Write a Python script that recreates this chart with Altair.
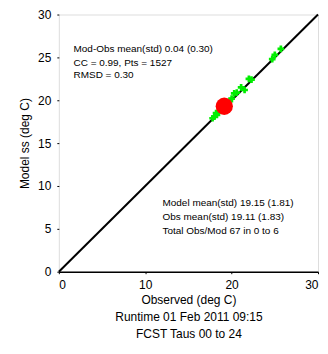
import altair as alt
import pandas as pd

obs = [17.8, 18.0, 18.2, 18.3, 18.5, 18.7, 18.9, 19.0, 19.2, 19.4, 19.6, 19.8, 20.0, 20.3, 20.6, 21.1, 21.5, 22.0, 22.3, 24.7, 25.0, 25.7]
mod = [17.9, 18.1, 18.5, 18.3, 18.6, 18.9, 18.8, 19.2, 19.1, 19.5, 19.6, 19.9, 20.2, 20.8, 20.9, 21.5, 21.2, 22.5, 22.4, 24.8, 25.3, 26.0]
mean_obs = [19.15]
mean_mod = [19.3]
line_vals = [0, 30]

stats_top = ["Mod-Obs mean(std) 0.04 (0.30)", "CC = 0.99, Pts = 1527", "RMSD = 0.30"]
stats_top_y = [26.0, 24.4, 22.9]
stats_bot = ["Model mean(std) 19.15 (1.81)", "Obs mean(std) 19.11 (1.83)", "Total Obs/Mod 67 in 0 to 6"]
stats_bot_y = [8.0, 6.4, 4.8]

xs = alt.Scale(domain=[0, 30], nice=False, zero=False)
ys = alt.Scale(domain=[0, 30], nice=False, zero=False)

xax = alt.Axis(values=[0, 10, 20, 30], format="d", domain=True, domainColor="black", domainWidth=1.5,
               ticks=True, tickSize=2, tickColor="black", grid=False,
               labelFontSize=12, labelColor="black", labelFont="Liberation Sans", labelPadding=6,
               title=["Observed (deg C)", "Runtime 01 Feb 2011 09:15", "FCST Taus 00 to 24"],
               titleFontSize=12, titleFontWeight="normal", titleFont="Liberation Sans", titleColor="black",
               titleLineHeight=17, titlePadding=4)
yax = alt.Axis(values=[0, 5, 10, 15, 20, 25, 30], format="d", domain=False,
               ticks=True, tickSize=2, tickColor="black", grid=False,
               labelFontSize=12, labelColor="black", labelFont="Liberation Sans", labelPadding=6,
               title="Model ss (deg C)", titleFontSize=12, titleFontWeight="normal",
               titleFont="Liberation Sans", titleColor="black", titlePadding=6)

line_df = pd.DataFrame({"x": line_vals, "y": line_vals})
line = alt.Chart(line_df).mark_line(color="black", strokeWidth=2).encode(
    x=alt.X("x:Q", scale=xs, axis=xax), y=alt.Y("y:Q", scale=ys, axis=yax))

pts_df = pd.DataFrame({"x": obs, "y": mod})
pts = alt.Chart(pts_df).mark_point(shape="cross", color="#00ee00", filled=True, size=45, opacity=1).encode(
    x=alt.X("x:Q", scale=xs), y=alt.Y("y:Q", scale=ys))

mean_df = pd.DataFrame({"x": mean_obs, "y": mean_mod})
mean = alt.Chart(mean_df).mark_circle(color="#ff0000", size=300, opacity=1).encode(
    x=alt.X("x:Q", scale=xs), y=alt.Y("y:Q", scale=ys))

top_df = pd.DataFrame({"x": [1.7] * 3, "y": stats_top_y, "t": stats_top})
top_txt = alt.Chart(top_df).mark_text(align="left", baseline="middle", fontSize=10, font="Liberation Sans", color="black").encode(
    x=alt.X("x:Q", scale=xs), y=alt.Y("y:Q", scale=ys), text="t:N")

bot_df = pd.DataFrame({"x": [12.0] * 3, "y": stats_bot_y, "t": stats_bot})
bot_txt = alt.Chart(bot_df).mark_text(align="left", baseline="middle", fontSize=10, font="Liberation Sans", color="black").encode(
    x=alt.X("x:Q", scale=xs), y=alt.Y("y:Q", scale=ys), text="t:N")

chart = alt.layer(line, pts, mean, top_txt, bot_txt).properties(
    width=260, height=258,
    autosize=alt.AutoSizeParams(type="none"),
    padding={"left": 51, "top": 6, "right": 2, "bottom": 80},
).configure_view(stroke=None).configure(background="white")

chart.save("out.html", embed_options={"renderer": "svg", "actions": False})
